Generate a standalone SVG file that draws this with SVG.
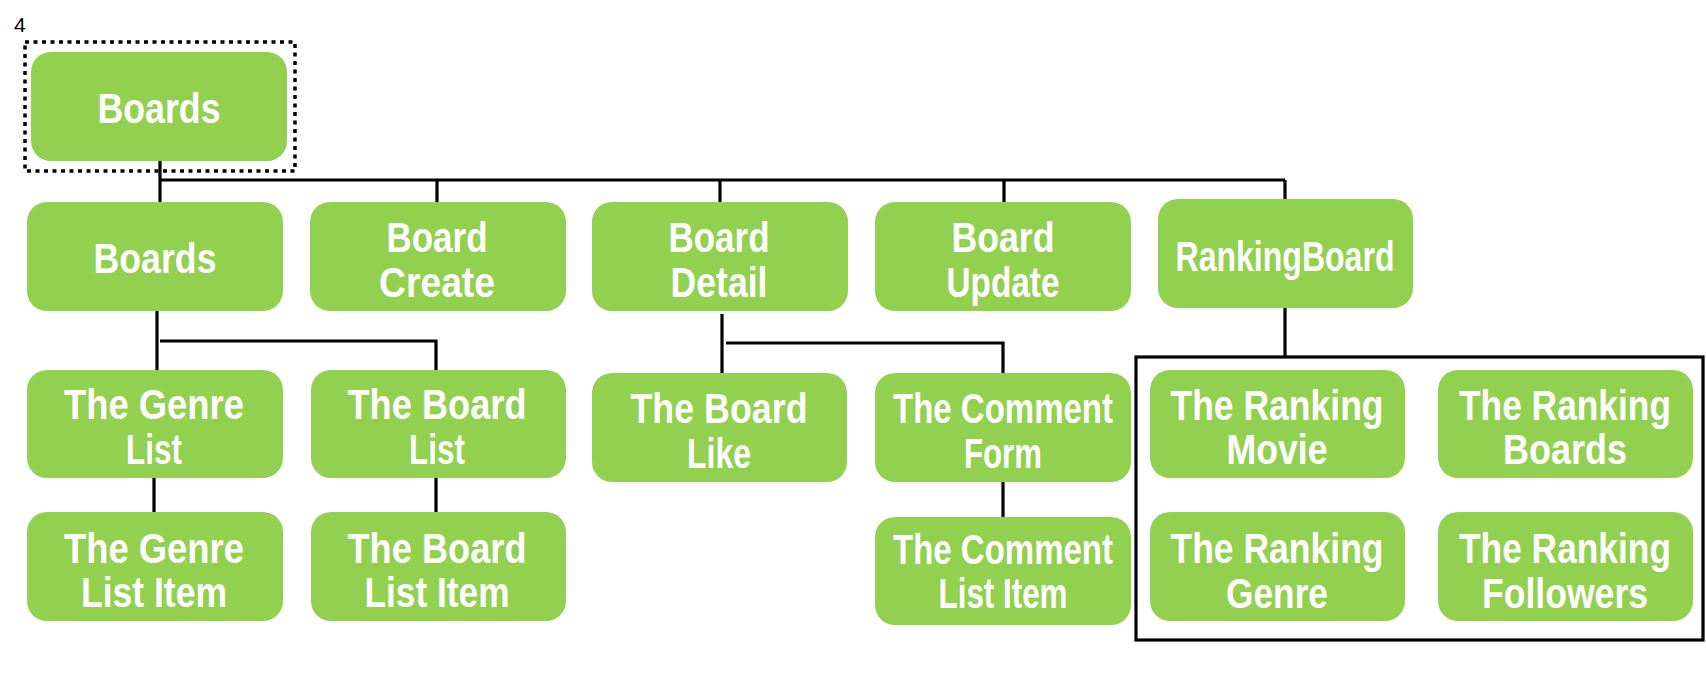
<svg xmlns="http://www.w3.org/2000/svg" width="1706" height="696" viewBox="0 0 1706 696">
<style>
.box{fill:#92D050;}
.t{font-family:"Liberation Sans",Arial,sans-serif;font-weight:bold;font-size:43px;fill:#FFFFFF;text-anchor:middle;}
.c{stroke:#000;stroke-width:3.2;fill:none;}
.num{font-family:"Liberation Sans",Arial,sans-serif;font-size:21px;fill:#000;}
</style>
<rect width="1706" height="696" fill="#FFFFFF"/>
<text class="num" x="14" y="32">4</text>
<rect x="25" y="42" width="270" height="129" fill="none" stroke="#000" stroke-width="3.5" stroke-dasharray="4 4.5"/>
<rect x="1136" y="357" width="567" height="283" fill="none" stroke="#000" stroke-width="3.2"/>
<g id="connectors">
<path class="c" d="M160 153V204"/>
<path class="c" d="M160 180H1285"/>
<path class="c" d="M437 180V202M720 180V202M1004 180V202M1285 180V199"/>
<path class="c" d="M157 311V370"/>
<path class="c" d="M160 341H436V372"/>
<path class="c" d="M154 478V512M436 478V512"/>
<path class="c" d="M722 314V373"/>
<path class="c" d="M726 343H1003V375"/>
<path class="c" d="M1003 482V517"/>
<path class="c" d="M1285 308V357"/>
</g>
<g id="n-boards-root"><rect class="box" x="31" y="52" width="256" height="109" rx="20"/><text class="t" x="159" y="123" textLength="123" lengthAdjust="spacingAndGlyphs">Boards</text></g>
<g id="n-boards"><rect class="box" x="27" y="202" width="256" height="109" rx="20"/><text class="t" x="155" y="273" textLength="123" lengthAdjust="spacingAndGlyphs">Boards</text></g>
<g id="n-create"><rect class="box" x="310" y="202" width="256" height="109" rx="20"/><text class="t" x="437" y="252" textLength="101" lengthAdjust="spacingAndGlyphs">Board</text><text class="t" x="437" y="297" textLength="116" lengthAdjust="spacingAndGlyphs">Create</text></g>
<g id="n-detail"><rect class="box" x="592" y="202" width="256" height="109" rx="20"/><text class="t" x="719" y="252" textLength="101" lengthAdjust="spacingAndGlyphs">Board</text><text class="t" x="719" y="297" textLength="97" lengthAdjust="spacingAndGlyphs">Detail</text></g>
<g id="n-update"><rect class="box" x="875" y="202" width="256" height="109" rx="20"/><text class="t" x="1003" y="252" textLength="103" lengthAdjust="spacingAndGlyphs">Board</text><text class="t" x="1003" y="297" textLength="113" lengthAdjust="spacingAndGlyphs">Update</text></g>
<g id="n-ranking"><rect class="box" x="1158" y="199" width="255" height="109" rx="20"/><text class="t" x="1285" y="271" textLength="219" lengthAdjust="spacingAndGlyphs">RankingBoard</text></g>
<g id="n-genre-list"><rect class="box" x="27" y="370" width="256" height="108" rx="20"/><text class="t" x="154" y="419" textLength="180" lengthAdjust="spacingAndGlyphs">The Genre</text><text class="t" x="154" y="464" textLength="56" lengthAdjust="spacingAndGlyphs">List</text></g>
<g id="n-board-list"><rect class="box" x="311" y="370" width="255" height="108" rx="20"/><text class="t" x="437" y="419" textLength="179" lengthAdjust="spacingAndGlyphs">The Board</text><text class="t" x="437" y="464" textLength="56" lengthAdjust="spacingAndGlyphs">List</text></g>
<g id="n-genre-item"><rect class="box" x="27" y="512" width="256" height="109" rx="20"/><text class="t" x="154" y="563" textLength="180" lengthAdjust="spacingAndGlyphs">The Genre</text><text class="t" x="154" y="607" textLength="146" lengthAdjust="spacingAndGlyphs">List Item</text></g>
<g id="n-board-item"><rect class="box" x="311" y="512" width="255" height="109" rx="20"/><text class="t" x="437" y="563" textLength="179" lengthAdjust="spacingAndGlyphs">The Board</text><text class="t" x="437" y="607" textLength="145" lengthAdjust="spacingAndGlyphs">List Item</text></g>
<g id="n-board-like"><rect class="box" x="592" y="373" width="255" height="109" rx="20"/><text class="t" x="719" y="423" textLength="177" lengthAdjust="spacingAndGlyphs">The Board</text><text class="t" x="719" y="468" textLength="64" lengthAdjust="spacingAndGlyphs">Like</text></g>
<g id="n-comment-form"><rect class="box" x="875" y="373" width="256" height="109" rx="20"/><text class="t" x="1003" y="423" textLength="220" lengthAdjust="spacingAndGlyphs">The Comment</text><text class="t" x="1003" y="468" textLength="78" lengthAdjust="spacingAndGlyphs">Form</text></g>
<g id="n-comment-item"><rect class="box" x="875" y="517" width="256" height="108" rx="20"/><text class="t" x="1003" y="564" textLength="220" lengthAdjust="spacingAndGlyphs">The Comment</text><text class="t" x="1003" y="608" textLength="129" lengthAdjust="spacingAndGlyphs">List Item</text></g>
<g id="n-rank-movie"><rect class="box" x="1150" y="370" width="255" height="108" rx="20"/><text class="t" x="1277" y="420" textLength="213" lengthAdjust="spacingAndGlyphs">The Ranking</text><text class="t" x="1277" y="464" textLength="101" lengthAdjust="spacingAndGlyphs">Movie</text></g>
<g id="n-rank-boards"><rect class="box" x="1438" y="370" width="255" height="108" rx="20"/><text class="t" x="1565" y="420" textLength="212" lengthAdjust="spacingAndGlyphs">The Ranking</text><text class="t" x="1565" y="464" textLength="124" lengthAdjust="spacingAndGlyphs">Boards</text></g>
<g id="n-rank-genre"><rect class="box" x="1150" y="512" width="255" height="109" rx="20"/><text class="t" x="1277" y="563" textLength="213" lengthAdjust="spacingAndGlyphs">The Ranking</text><text class="t" x="1277" y="608" textLength="102" lengthAdjust="spacingAndGlyphs">Genre</text></g>
<g id="n-rank-followers"><rect class="box" x="1438" y="512" width="255" height="109" rx="20"/><text class="t" x="1565" y="563" textLength="212" lengthAdjust="spacingAndGlyphs">The Ranking</text><text class="t" x="1565" y="608" textLength="166" lengthAdjust="spacingAndGlyphs">Followers</text></g>
</svg>
